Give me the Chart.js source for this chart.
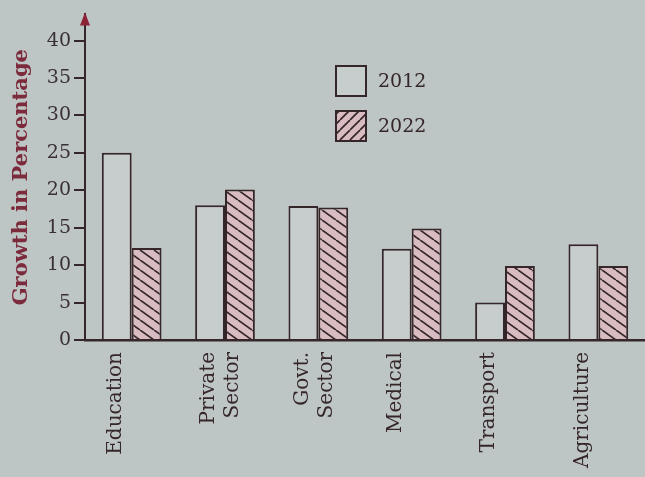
<!DOCTYPE html>
<html>
<head>
<meta charset="utf-8">
<script src="https://cdn.jsdelivr.net/npm/chart.js@4.4.1/dist/chart.umd.min.js"></script>
<style>
    html, body { margin: 0; padding: 0; background: #bec6c5; }
    #wrap { width: 645px; height: 477px; }
</style>
</head>
<body>
<div id="wrap"><canvas id="growth-chart" width="645" height="477"></canvas></div>
<script>
// Datos
const categories = ['Education', ['Private', 'Sector'], ['Govt.', 'Sector'], 'Medical', 'Transport', 'Agriculture'];
const growth2012 = [25, 18, 17.9, 12.2, 5, 12.8];
const growth2022 = [12.3, 20.1, 17.7, 14.9, 9.9, 9.9];
const yTicks = [0, 5, 10, 15, 20, 25, 30, 35, 40];

const inkColor = '#35262a';
const maroon = '#7b2b3b';
const serif = '"DejaVu Serif", "Liberation Serif", serif';

// Patron rayado para las barras de 2022
function makeHatch(w, h, back) {
    const c = document.createElement('canvas');
    c.width = w;
    c.height = h;
    const ctx = c.getContext('2d');
    ctx.fillStyle = '#d8bcc1';
    ctx.fillRect(0, 0, w, h);
    ctx.strokeStyle = inkColor;
    ctx.lineWidth = 1.7;
    for (let k = -1; k <= 1; k++) {
        ctx.beginPath();
        if (back) {
            ctx.moveTo(k * w, 0);
            ctx.lineTo(k * w + w, h);
        } else {
            ctx.moveTo(k * w, h);
            ctx.lineTo(k * w + w, 0);
        }
        ctx.stroke();
    }
    return ctx.createPattern(c, 'repeat');
}

const barHatch = makeHatch(14, 10, true);
const legendHatch = makeHatch(10, 10, false);

// Leyenda dentro del area
const insideLegend = {
    id: 'insideLegend',
    afterDraw(chart) {
        const ctx = chart.ctx;
        const fills = ['#c7cdcc', legendHatch];
        ctx.save();
        chart.data.datasets.forEach((ds, i) => {
            const x = 336;
            const y = 66 + i * 45;
            ctx.fillStyle = fills[i];
            ctx.fillRect(x, y, 30, 30);
            ctx.strokeStyle = inkColor;
            ctx.lineWidth = 2;
            ctx.strokeRect(x, y, 30, 30);
            ctx.fillStyle = inkColor;
            ctx.font = '19px ' + serif;
            ctx.textBaseline = 'middle';
            ctx.fillText(ds.label, 378, y + 16);
        });
        ctx.restore();
    }
};

// Flecha del eje Y
const axisArrow = {
    id: 'axisArrow',
    afterDraw(chart) {
        const ctx = chart.ctx;
        const x = chart.chartArea.left;
        const top = chart.chartArea.top;
        ctx.save();
        ctx.fillStyle = '#8b2335';
        ctx.beginPath();
        ctx.moveTo(x, top - 2);
        ctx.lineTo(x - 5, top + 11);
        ctx.lineTo(x + 5, top + 11);
        ctx.closePath();
        ctx.fill();
        ctx.restore();
    }
};

const data = {
    labels: categories,
    datasets: [
        {
            label: '2012',
            data: growth2012,
            backgroundColor: '#c7cdcc',
            borderColor: inkColor,
            borderWidth: 2,
            borderSkipped: 'bottom'
        },
        {
            label: '2022',
            data: growth2022,
            backgroundColor: barHatch,
            borderColor: inkColor,
            borderWidth: 2,
            borderSkipped: 'bottom'
        }
    ]
};

const config = {
    type: 'bar',
    data: data,
    options: {
        responsive: false,
        animation: false,
        layout: { padding: { top: 10, left: 0, right: 0, bottom: 0 } },
        datasets: {
            bar: { categoryPercentage: 0.64, barPercentage: 1.0 }
        },
        plugins: {
            legend: { display: false },
            tooltip: { enabled: false }
        },
        scales: {
            x: {
                grid: { display: false },
                border: { color: inkColor, width: 2.5 },
                ticks: {
                    color: inkColor,
                    font: { family: serif, size: 20 },
                    minRotation: 90,
                    maxRotation: 90,
                    padding: 4,
                    labelOffset: -16
                },
                afterFit(scale) {
                    scale.height = 137;
                    scale.paddingLeft = 0;
                    scale.paddingRight = 0;
                }
            },
            y: {
                min: 0,
                max: 43.5,
                grid: {
                    drawOnChartArea: false,
                    drawTicks: true,
                    tickLength: 11,
                    color: inkColor,
                    lineWidth: 2
                },
                border: { color: inkColor, width: 2 },
                ticks: {
                    stepSize: 5,
                    color: '#3a3034',
                    font: { family: serif, size: 19 },
                    padding: 3
                },
                afterBuildTicks(scale) {
                    scale.ticks = yTicks.map(v => ({ value: v }));
                },
                title: {
                    display: true,
                    text: 'Growth in Percentage',
                    color: maroon,
                    font: { family: serif, size: 21, weight: 'bold' },
                    padding: { top: 9, bottom: 0 }
                },
                afterFit(scale) {
                    scale.width = 85;
                }
            }
        }
    },
    plugins: [insideLegend, axisArrow]
};

const graph = new Chart(document.getElementById('growth-chart'), config);
</script>
</body>
</html>
